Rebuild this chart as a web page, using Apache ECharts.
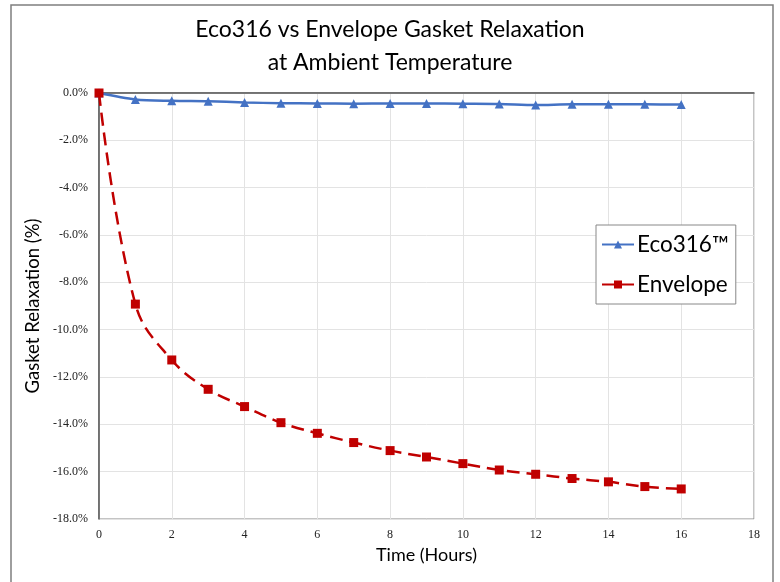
<!DOCTYPE html>
<html><head><meta charset="utf-8">
<script src="https://cdn.jsdelivr.net/npm/echarts@6/dist/echarts.min.js"></script>
<style>html,body{margin:0;padding:0;background:#fff}#c{width:780px;height:582px}</style>
</head><body><div id="c"></div>
<script>
const hours = [0,1,2,3,4,5,6,7,8,9,10,11,12,13,14,15,16];
const eco316 = [0,-0.27,-0.33,-0.35,-0.40,-0.43,-0.44,-0.45,-0.44,-0.44,-0.45,-0.46,-0.51,-0.48,-0.48,-0.48,-0.49];
const envelope = [0,-8.92,-11.28,-12.52,-13.25,-13.93,-14.38,-14.77,-15.11,-15.38,-15.66,-15.93,-16.11,-16.29,-16.43,-16.63,-16.73];
const seriesNames = ['Eco316™','Envelope'];
const titleText = 'Eco316 vs Envelope Gasket Relaxation\nat Ambient Temperature';
const xName = 'Time (Hours)';
const yName = 'Gasket Relaxation (%)';

const chart = echarts.init(document.getElementById('c'));
chart.setOption({
  animation:false,
  backgroundColor:'#fff',
  graphic:[{type:'rect',shape:{x:11,y:5,width:762,height:600},style:{fill:'none',stroke:'#7f7f7f',lineWidth:1.5},z:-1}],
  title:{text:titleText,left:'center',top:8,textStyle:{fontFamily:'Lato',fontSize:23,fontWeight:'normal',color:'#000',lineHeight:33}},
  grid:{left:99,right:26,top:93,bottom:63,show:true,borderColor:'#888',borderWidth:1},
  legend:{
    data:seriesNames,orient:'vertical',left:596,top:225,
    backgroundColor:'#fff',borderColor:'#888',borderWidth:1,padding:[8,7,8,5],
    itemWidth:32,itemHeight:10,itemGap:17,
    textStyle:{fontFamily:'Lato',fontSize:22.5,color:'#000',padding:[0,0,0,-2]}
  },
  xAxis:{type:'value',min:0,max:18,interval:2,
    name:xName,nameLocation:'middle',nameGap:27,
    nameTextStyle:{fontFamily:'Lato',fontSize:18,color:'#000'},
    axisLine:{lineStyle:{color:'#555',width:1.5}},axisTick:{show:false},
    axisLabel:{fontFamily:'Liberation Serif',fontSize:12,color:'#222',margin:10},
    splitLine:{lineStyle:{color:'#e3e3e3'}}},
  yAxis:{type:'value',min:-18,max:0,interval:2,
    name:yName,nameLocation:'middle',nameGap:52,
    nameTextStyle:{fontFamily:'Lato',fontSize:18.5,color:'#000'},
    axisLine:{show:true,lineStyle:{color:'#555',width:1.5}},axisTick:{show:false},
    axisLabel:{fontFamily:'Liberation Serif',fontSize:12,color:'#222',margin:11,formatter:v=>v.toFixed(1)+'%'},
    splitLine:{lineStyle:{color:'#e3e3e3'}}},
  series:[
    {name:seriesNames[0],type:'line',data:hours.map((h,i)=>[h,eco316[i]]),smooth:0.3,
      symbol:'triangle',symbolSize:9,lineStyle:{color:'#4472C4',width:2.5},itemStyle:{color:'#4472C4'},z:3},
    {name:seriesNames[1],type:'line',data:hours.map((h,i)=>[h,envelope[i]]),smooth:0.4,
      symbol:'rect',symbolSize:9,lineStyle:{color:'#C00000',width:2.5,type:[13,7]},itemStyle:{color:'#C00000'},z:4}
  ]
});
</script></body></html>
